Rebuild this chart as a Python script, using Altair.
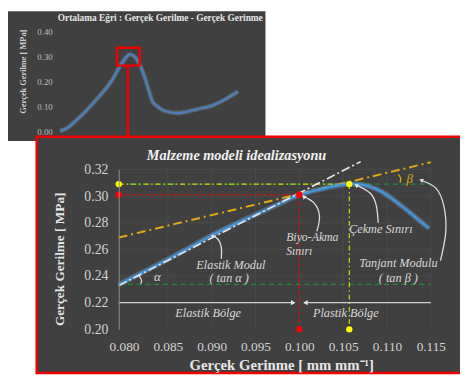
import altair as alt
import pandas as pd

# ---------------- data ----------------
# inset (overall averaged curve)
inset_strain = [0, 0.009, 0.028, 0.054, 0.0775, 0.0954, 0.1057, 0.112, 0.120, 0.128, 0.135, 0.140,
                0.1475, 0.158, 0.177, 0.192, 0.207, 0.2295, 0.249, 0.270]
inset_stress = [0, 0.010, 0.052, 0.124, 0.200, 0.280, 0.309, 0.303, 0.273, 0.220, 0.160, 0.120,
                0.100, 0.082, 0.073, 0.078, 0.088, 0.102, 0.126, 0.160]
inset_yticks = [0.0, 0.1, 0.2, 0.3, 0.4]

# main (zoomed) curve
main_strain = [0.0794, 0.0825, 0.085, 0.0875, 0.090, 0.0925, 0.095, 0.0975, 0.100, 0.1025, 0.1045,
               0.1057, 0.107, 0.108, 0.1094, 0.1108, 0.1122, 0.1135, 0.1148]
main_stress = [0.2335, 0.2440, 0.2525, 0.2615, 0.2705, 0.2785, 0.2860, 0.2935, 0.3008, 0.3052, 0.3080,
               0.3092, 0.3088, 0.3072, 0.3033, 0.2970, 0.2898, 0.2828, 0.2757]
x_ticks = [0.080, 0.085, 0.090, 0.095, 0.100, 0.105, 0.110, 0.115]
y_ticks = [0.20, 0.22, 0.24, 0.26, 0.28, 0.30, 0.32]

x_lo, x_hi = 0.0794, 0.115
yield_pt = (0.100, 0.301)
ult_pt = (0.1057, 0.309)
elastic_line = ([0.0794, 0.1070], [0.2328, 0.3259])
tangent_line = ([0.0794, 0.1150], [0.2689, 0.3254])
green_levels = [0.309, 0.2338]

W, H = 460, 373
FONT = "Liberation Serif, Times New Roman, serif"
BG = "#404040"
RED = "#ee0000"
YEL = "#f2f200"
GOLD = "#e0aa10"
GREEN = "#1f8a3a"
TXT = "#d9d9d9"

MX = alt.Scale(domain=[x_lo, x_hi], range=[112.7, 430.3], nice=False, zero=False)
MY = alt.Scale(domain=[0.20, 0.32], range=[323.7, 161.0], nice=False, zero=False)
IX = alt.Scale(domain=[0, 0.3], range=[53, 254.3], nice=False, zero=False)
IY = alt.Scale(domain=[0, 0.4], range=[122, 21], nice=False, zero=False)


def mx(f="x", axis=None):
    return alt.X(f"{f}:Q", scale=MX, axis=axis)


def my(f="y", axis=None):
    return alt.Y(f"{f}:Q", scale=MY, axis=axis)


def ix(f="x", axis=None):
    return alt.X(f"{f}:Q", scale=IX, axis=axis)


def iy(f="y", axis=None):
    return alt.Y(f"{f}:Q", scale=IY, axis=axis)


one = pd.DataFrame({"a": [0]})

# ---------------- inset ----------------
inset_bg = alt.Chart(one).mark_rect(color=BG).encode(
    x=alt.value(0), x2=alt.value(262), y=alt.value(0), y2=alt.value(132))

inset_df = pd.DataFrame({"x": inset_strain, "y": inset_stress, "i": range(len(inset_strain))})
inset_glow = alt.Chart(inset_df).mark_line(color="#8fbfef", strokeWidth=4.5, opacity=0.3,
                                           interpolate="monotone").encode(
    x=ix(), y=iy(), order="i:Q")
inset_line = alt.Chart(inset_df).mark_line(color="#4d82c2", strokeWidth=1.8,
                                           interpolate="monotone").encode(
    x=ix(),
    y=iy(axis=alt.Axis(orient="left", offset=-53, values=inset_yticks, format=".2f", zindex=2,
                       labelOverlap=False, labelFlush=False,
                       domain=False, ticks=False, grid=False, labelFont=FONT, labelFontSize=9,
                       labelColor="#bfbfbf", labelPadding=8,
                       title="Gerçek Gerilme [ MPa]", titleFont=FONT, titleFontSize=8.5,
                       titleFontWeight="bold", titleColor="#cfcfcf", titleX=-38, titleY=61,
                       titleAngle=270, titleAlign="center", titleBaseline="middle")),
    order="i:Q")

inset_title = alt.Chart(pd.DataFrame({"x": [0.152], "y": [0.4554],
                                      "t": ["Ortalama Eğri : Gerçek Gerilme - Gerçek Gerinme"]})
                        ).mark_text(font=FONT, fontSize=9.5, fontWeight="bold", color="#e6e6e6").encode(
    x=ix(), y=iy(), text="t:N")

box = alt.Chart(pd.DataFrame({"x": [0.0864], "x2": [0.1207], "y": [0.336], "y2": [0.264]})
                ).mark_rect(fill=None, stroke=RED, strokeWidth=2.5, clip=False).encode(
    x=ix(), x2="x2:Q", y=iy(), y2="y2:Q")
connector = alt.Chart(pd.DataFrame({"x": [0.1028], "y": [0.264], "y2": [-0.03]})
                      ).mark_rule(color=RED, strokeWidth=2.5, clip=False).encode(
    x=ix(), y=iy(), y2="y2:Q")

# ---------------- main panel ----------------
main_bg = alt.Chart(one).mark_rect(fill=BG, stroke=RED, strokeWidth=2.5).encode(
    x=alt.value(29.2), x2=alt.value(475), y=alt.value(127.8), y2=alt.value(368.2))

vgrid = alt.Chart(pd.DataFrame({"x": x_ticks[1:], "y": 0.20, "y2": 0.32})).mark_rule(
    color="#4b4b4b", strokeWidth=0.8).encode(x=mx(), y=my(), y2="y2:Q")
hgrid = alt.Chart(pd.DataFrame({"y": y_ticks[2:], "x": x_lo, "x2": x_hi})).mark_rule(
    color="#4b4b4b", strokeWidth=0.8).encode(x=mx(), x2="x2:Q", y=my())

green = alt.Chart(pd.DataFrame({"y": green_levels, "x": x_lo, "x2": x_hi})).mark_rule(
    color=GREEN, strokeWidth=1.3, strokeDash=[5, 4]).encode(x=mx(), x2="x2:Q", y=my())

yel_lines = alt.Chart(pd.DataFrame({
    "x": [x_lo, ult_pt[0]], "x2": [ult_pt[0], ult_pt[0]],
    "y": [ult_pt[1], ult_pt[1]], "y2": [ult_pt[1], 0.20]})).mark_rule(
    color=YEL, strokeWidth=1.2, strokeDash=[5, 3, 1.5, 3], opacity=0.85).encode(
    x=mx(), x2="x2:Q", y=my(), y2="y2:Q")

red_lines = alt.Chart(pd.DataFrame({
    "x": [x_lo, yield_pt[0]], "x2": [yield_pt[0], yield_pt[0]],
    "y": [yield_pt[1], yield_pt[1]], "y2": [yield_pt[1], 0.20]})).mark_rule(
    color=RED, strokeWidth=1.2, strokeDash=[4, 3]).encode(
    x=mx(), x2="x2:Q", y=my(), y2="y2:Q")

tangent = alt.Chart(pd.DataFrame({"x": [tangent_line[0][0]], "x2": [tangent_line[0][1]],
                                  "y": [tangent_line[1][0]], "y2": [tangent_line[1][1]]})
                    ).mark_rule(color=GOLD, strokeWidth=2, strokeDash=[9, 4, 2, 4]).encode(
    x=mx(), x2="x2:Q", y=my(), y2="y2:Q")

main_df = pd.DataFrame({"x": main_strain, "y": main_stress, "i": range(len(main_strain))})
glow = alt.Chart(main_df).mark_line(color="#7ec0ff", strokeWidth=5.5, opacity=0.3,
                                    interpolate="monotone").encode(x=mx(), y=my(), order="i:Q")
curve = alt.Chart(main_df).mark_line(color="#3f97e2", strokeWidth=2.2,
                                     interpolate="monotone").encode(
    x=mx(axis=alt.Axis(orient="bottom", offset=-(H - 323.7), values=x_ticks, format=".3f", zindex=2,
                       labelOverlap=False, labelFlush=False,
                       domain=False, ticks=False, grid=False, labelFont=FONT, labelFontSize=13.5,
                       labelColor="#d4d4d4", labelPadding=11,
                       title="Gerçek Gerinme [ mm mm⁻¹]", titleFont=FONT, titleFontSize=15,
                       titleFontWeight="bold", titleColor="#e6e6e6", titleX=278, titleY=36,
                       titleAlign="center", titleBaseline="middle")),
    y=my(axis=alt.Axis(orient="left", offset=-112.7, values=y_ticks, format=".2f", zindex=2,
                       labelOverlap=False, labelFlush=False,
                       domain=True, domainColor="#8c8c8c", domainWidth=1, ticks=False, grid=False,
                       labelFont=FONT, labelFontSize=14, labelColor="#d4d4d4", labelPadding=11,
                       title="Gerçek Gerilme [ MPa]", titleFont=FONT, titleFontSize=13.5,
                       titleFontWeight="bold", titleColor="#e6e6e6", titleX=-60.7, titleY=252,
                       titleAngle=270, titleAlign="center", titleBaseline="middle")),
    order="i:Q")

elastic = alt.Chart(pd.DataFrame({"x": [elastic_line[0][0]], "x2": [elastic_line[0][1]],
                                  "y": [elastic_line[1][0]], "y2": [elastic_line[1][1]]})
                    ).mark_rule(color="#ececec", strokeWidth=1.6, strokeDash=[9, 3, 2, 3]).encode(
    x=mx(), x2="x2:Q", y=my(), y2="y2:Q")

# region arrows at 0.22
reg = alt.Chart(pd.DataFrame({"x": [x_lo, 0.1006], "x2": [0.0994, x_hi], "y": [0.22, 0.22]})
                ).mark_rule(color="#cfcfcf", strokeWidth=1.2).encode(x=mx(), x2="x2:Q", y=my())
reg_heads = alt.Chart(pd.DataFrame({"x": [0.0993, 0.1007], "y": [0.22, 0.22],
                                    "s": ["triangle-right", "triangle-left"]})
                      ).mark_point(filled=True, color="#e6e6e6", size=28, opacity=1).encode(
    x=mx(), y=my(), shape=alt.Shape("s:N", scale=None))

red_pts = alt.Chart(pd.DataFrame({"x": [x_lo, yield_pt[0], yield_pt[0]],
                                  "y": [yield_pt[1], yield_pt[1], 0.20]})
                    ).mark_circle(color="#ff0000", size=42, opacity=1).encode(x=mx(), y=my())
yel_pts = alt.Chart(pd.DataFrame({"x": [x_lo, ult_pt[0], ult_pt[0]],
                                  "y": [ult_pt[1], ult_pt[1], 0.20]})
                    ).mark_circle(color="#ffff00", size=42, opacity=1).encode(x=mx(), y=my())

# curved annotation arrows
arrows = pd.DataFrame({
    "g": ["a"] * 4 + ["b"] * 4 + ["c"] * 4 + ["d"] * 5,
    "i": list(range(4)) + list(range(4)) + list(range(4)) + list(range(5)),
    "x": [0.0911, 0.0911, 0.09073, 0.09009,
          0.1020, 0.1023, 0.1017, 0.1005,
          0.1090, 0.1088, 0.1081, 0.1065,
          0.1161, 0.1167, 0.1165, 0.1156, 0.1139],
    "y": [0.2529, 0.2615, 0.2676, 0.2701,
          0.2735, 0.2848, 0.2947, 0.2996,
          0.2800, 0.2922, 0.3021, 0.3082,
          0.2516, 0.2726, 0.2922, 0.3058, 0.3119],
})
arrow_lines = alt.Chart(arrows).mark_line(color="#dedede", strokeWidth=1.3, interpolate="natural",
                                          clip=False).encode(
    x=mx(), y=my(), detail="g:N", order="i:Q")
heads = pd.DataFrame({"x": [0.09009, 0.1005, 0.1065, 0.1139],
                      "y": [0.2701, 0.2996, 0.3082, 0.3119],
                      "ang": [315, 312, 309, 292]})
arrow_heads = alt.Chart(heads).mark_point(shape="triangle-up", filled=True, color="#e6e6e6",
                                          size=22, opacity=1, clip=False).encode(
    x=mx(), y=my(), angle=alt.Angle("ang:Q", scale=None))

# angle arcs
arcs = pd.DataFrame({"g": ["a"] * 3 + ["b"] * 3, "i": [0, 1, 2, 0, 1, 2],
                     "x": [0.08175, 0.0820, 0.0819, 0.1113, 0.11155, 0.1115],
                     "y": [0.2400, 0.2368, 0.2340, 0.3163, 0.3134, 0.3099],
                     "c": ["#d9d9d9"] * 3 + [GOLD] * 3})
arc_lines = alt.Chart(arcs).mark_line(strokeWidth=1.3, interpolate="natural").encode(
    x=mx(), y=my(), detail="g:N", order="i:Q", color=alt.Color("c:N", scale=None))

labels_c = pd.DataFrame({
    "t": ["Elastik Bölge", "Plastik Bölge", "Elastik Modul", "( tan α )", "Çekme Sınırı",
          "Tanjant Modulu", "( tan β )"],
    "x": [0.0896, 0.1053, 0.0922, 0.0920, 0.1093, 0.1113, 0.1113],
    "y": [0.2123, 0.2123, 0.2485, 0.2381, 0.2750, 0.2497, 0.2386],
})
text_c = alt.Chart(labels_c).mark_text(font=FONT, fontSize=12.5, fontStyle="italic", color=TXT,
                                       clip=False).encode(x=mx(), y=my(), text="t:N")
labels_l = pd.DataFrame({"t": ["Biyo-Akma", "Sınırı"], "x": [0.0985, 0.0985], "y": [0.2695, 0.2590]})
text_l = alt.Chart(labels_l).mark_text(font=FONT, fontSize=12, fontStyle="italic", color=TXT,
                                       align="left").encode(x=mx(), y=my(), text="t:N")
greek = pd.DataFrame({"t": ["α", "β"], "x": [0.0838, 0.1126], "y": [0.2394, 0.3131],
                      "c": [TXT, GOLD]})
text_g = alt.Chart(greek).mark_text(font=FONT, fontSize=13, fontStyle="italic").encode(
    x=mx(), y=my(), text="t:N", color=alt.Color("c:N", scale=None))

main_title = alt.Chart(pd.DataFrame({"x": [0.09283], "y": [0.3303],
                                     "t": ["Malzeme modeli idealizasyonu"]})
                       ).mark_text(font=FONT, fontSize=14.5, fontStyle="italic", fontWeight="bold",
                                   color="#f2f2f2").encode(x=mx(), y=my(), text="t:N")

layers = [inset_bg, inset_glow, inset_line, inset_title, box, connector,
          main_bg, vgrid, hgrid, green, yel_lines, red_lines, tangent, glow, curve, elastic,
          reg, reg_heads, red_pts, yel_pts, arrow_lines, arrow_heads, arc_lines,
          text_c, text_l, text_g, main_title]

chart = alt.layer(*layers).resolve_scale(
    x="independent", y="independent", color="independent", shape="independent", angle="independent"
).resolve_axis(x="independent", y="independent").properties(
    width=W, height=H, padding=0, autosize=alt.AutoSizeParams(type="none"), background="#ffffff"
).configure_view(strokeWidth=0)

chart.save("out.html", embed_options={"renderer": "svg", "actions": False})
